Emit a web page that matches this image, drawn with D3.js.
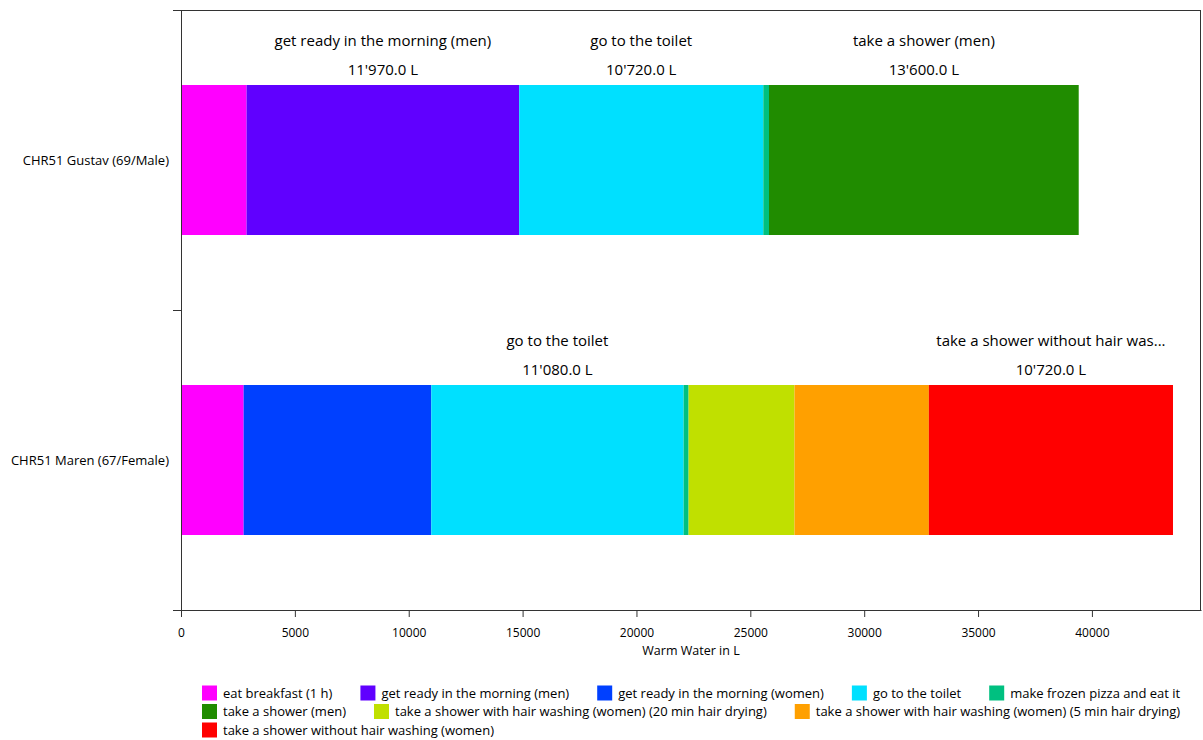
<!DOCTYPE html>
<html>
<head>
<meta charset="utf-8">
<script src="https://cdn.jsdelivr.net/npm/d3@7"></script>
<style>
  html, body { margin: 0; padding: 0; background: #fff; }
  svg { display: block; font-family: "Open Sans", "Noto Sans", sans-serif; }
</style>
</head>
<body>
<svg id="chart" width="1203" height="740"></svg>
<script>
// ---- data ----
const persons = ["CHR51 Gustav (69/Male)", "CHR51 Maren (67/Female)"];
const activities = [
  "eat breakfast (1 h)",
  "get ready in the morning (men)",
  "get ready in the morning (women)",
  "go to the toilet",
  "make frozen pizza and eat it",
  "take a shower (men)",
  "take a shower with hair washing (women) (20 min hair drying)",
  "take a shower with hair washing (women) (5 min hair drying)",
  "take a shower without hair washing (women)"
];
const activityColors = ["#FF00FF", "#6000FF", "#0040FF", "#00E0FF", "#00C080", "#208C00", "#C0E000", "#FFA000", "#FF0000"];
// warm water in L, per activity, for each person (index matches persons)
const gustavValues = [2880, 11970, 0, 10720, 250, 13600, 0, 0, 0];
const marenValues  = [2750, 0, 8240, 11080, 220, 0, 4650, 5900, 10720];
const xTicks = [0, 5000, 10000, 15000, 20000, 25000, 30000, 35000, 40000];
const xMax = 44790;
const xTitle = "Warm Water in L";
const labelThreshold = 10000;

(function () {
// ---- layout ----
const svg = d3.select("#chart");
const pLeft = 181, pRight = 1201, pTop = 10, pBottom = 610;

const x = d3.scaleLinear().domain([0, xMax]).range([pLeft, pRight]);
const y = d3.scaleBand().domain(persons).range([pTop, pBottom]).paddingInner(0).paddingOuter(0);
const color = d3.scaleOrdinal().domain(activities).range(activityColors);

const seriesByPerson = [gustavValues, marenValues];
const segments = [];
persons.forEach((p, pi) => {
  let acc = 0;
  activities.forEach((a, ai) => {
    const v = seriesByPerson[pi][ai];
    if (v > 0) {
      segments.push({ person: p, activity: a, value: v, x0: acc, x1: acc + v });
      acc += v;
    }
  });
});

const barH = y.bandwidth() / 2;

// bars
svg.append("g").selectAll("rect").data(segments).join("rect")
  .attr("x", d => x(d.x0))
  .attr("y", d => y(d.person) + (y.bandwidth() - barH) / 2)
  .attr("width", d => x(d.x1) - x(d.x0))
  .attr("height", barH)
  .attr("fill", d => color(d.activity));

// frame (top and right)
svg.append("line").attr("x1", pLeft).attr("x2", pRight).attr("y1", pTop + 0.5).attr("y2", pTop + 0.5)
  .attr("stroke", "#333").attr("stroke-width", 1);
svg.append("line").attr("x1", pRight - 0.5).attr("x2", pRight - 0.5).attr("y1", pTop).attr("y2", pBottom)
  .attr("stroke", "#333").attr("stroke-width", 1);

// x axis
const fmtNum = d3.format("d");
const xAxis = svg.append("g").attr("transform", `translate(0,${pBottom})`)
  .call(d3.axisBottom(x).tickValues(xTicks).tickFormat(fmtNum).tickSize(7).tickSizeOuter(0));
xAxis.select(".domain").attr("stroke", "#333");
xAxis.selectAll(".tick line").attr("stroke", "#333");
xAxis.selectAll(".tick text").attr("font-family", "'Open Sans', sans-serif").attr("font-size", 12)
  .attr("fill", "#000").attr("y", 0).attr("dy", "0").attr("transform", "translate(0,27)");

svg.append("text").attr("x", (pLeft + pRight) / 2).attr("y", 651).attr("dy", "0.35em")
  .attr("text-anchor", "middle").attr("font-size", 12.5).attr("fill", "#000").text(xTitle);

// y axis: ticks at band edges, labels at band centres
const yAxisG = svg.append("g");
yAxisG.append("line").attr("x1", pLeft + 0.5).attr("x2", pLeft + 0.5).attr("y1", pTop).attr("y2", pBottom + 7)
  .attr("stroke", "#333");
const edges = persons.map(p => y(p)).concat([y(persons[persons.length - 1]) + y.bandwidth()]);
yAxisG.selectAll("line.tk").data(edges).join("line").attr("class", "tk")
  .attr("x1", pLeft - 8).attr("x2", pLeft).attr("y1", d => d + 0.5).attr("y2", d => d + 0.5).attr("stroke", "#333");
yAxisG.selectAll("text").data(persons).join("text")
  .attr("x", pLeft - 12).attr("y", d => y(d) + y.bandwidth() / 2).attr("dy", "0.35em")
  .attr("text-anchor", "end").attr("font-size", 13).attr("fill", "#000").text(d => d);

// segment labels
const fmtVal = v => d3.format(",.1f")(v).replace(/,/g, "'") + " L";
const labG = svg.append("g");
segments.filter(d => d.value >= labelThreshold).forEach(d => {
  const cx = (x(d.x0) + x(d.x1)) / 2;
  const barTop = y(d.person) + (y.bandwidth() - barH) / 2;
  const maxW = x(d.x1) - x(d.x0);
  const t = labG.append("text").attr("x", cx).attr("y", barTop - 44).attr("dy", "0.35em")
    .attr("text-anchor", "middle").attr("font-size", 15).attr("fill", "#000").text(d.activity);
  let txt = d.activity;
  if (t.node().getComputedTextLength() > maxW) {
    while (txt.length > 1) {
      txt = txt.slice(0, -1);
      t.text(txt + "...");
      if (t.node().getComputedTextLength() <= maxW - 8) break;
    }
  }
  labG.append("text").attr("x", cx).attr("y", barTop - 15).attr("dy", "0.35em")
    .attr("text-anchor", "middle").attr("font-size", 15).attr("fill", "#000").text(fmtVal(d.value));
});

// legend (flow layout)
const legG = svg.append("g");
const legStartX = 202, legMaxX = 1200;
const sw = 15, gapText = 6, gapItem = 28, rowH = 18.5;
let lx = legStartX, row = 0;
activities.forEach(a => {
  const g = legG.append("g");
  const t = g.append("text").attr("font-size", 13).attr("fill", "#000").text(a);
  const w = t.node().getComputedTextLength();
  if (lx + sw + gapText + w > legMaxX && lx > legStartX) { lx = legStartX; row++; }
  const cy = 693 + row * rowH;
  g.append("rect").attr("x", lx).attr("y", cy - 7.5).attr("width", sw).attr("height", sw).attr("fill", color(a));
  t.attr("x", lx + sw + gapText).attr("y", cy).attr("dy", "0.35em");
  lx += sw + gapText + w + gapItem;
});
})();
</script>
</body>
</html>
